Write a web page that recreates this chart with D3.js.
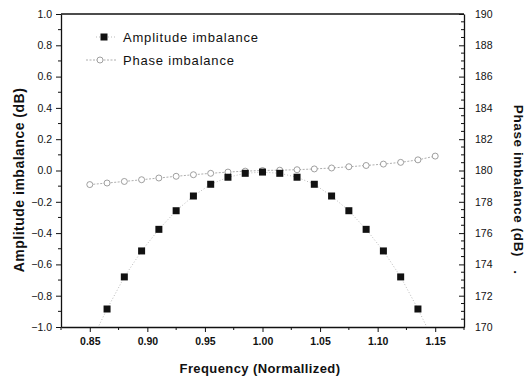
<!DOCTYPE html>
<html>
<head>
<meta charset="utf-8">
<script src="https://cdn.jsdelivr.net/npm/d3@7"></script>
<style>
  body { margin: 0; background: #fff; }
  svg { display: block; font-family: "Liberation Sans", Arial, sans-serif; }
</style>
</head>
<body>
<svg id="chart" width="525" height="381"></svg>
<script>
// Frequency points (normalized)
const ampFreq = [0.85, 0.865, 0.88, 0.895, 0.91, 0.925, 0.94, 0.955, 0.97, 0.985, 1.0,
                 1.015, 1.03, 1.045, 1.06, 1.075, 1.09, 1.105, 1.12, 1.135, 1.15];
// Amplitude imbalance (dB); end points fall below the axis and get clipped
const ampValues = [-1.11, -0.885, -0.68, -0.514, -0.376, -0.257, -0.163, -0.088, -0.043, -0.018, -0.01,
                   -0.018, -0.043, -0.088, -0.163, -0.257, -0.376, -0.514, -0.68, -0.885, -1.11];
const phaseFreq = [0.85, 0.865, 0.88, 0.895, 0.91, 0.925, 0.94, 0.955, 0.97, 0.985, 1.0,
                   1.015, 1.03, 1.045, 1.06, 1.075, 1.09, 1.105, 1.12, 1.135, 1.15];
// Phase imbalance (deg, right axis)
const phaseValues = [179.10, 179.20, 179.30, 179.41, 179.52, 179.63, 179.73, 179.82, 179.90, 179.96, 180.00,
                     180.02, 180.05, 180.10, 180.16, 180.24, 180.32, 180.41, 180.52, 180.68, 180.92];

const xTicks = [0.85, 0.90, 0.95, 1.00, 1.05, 1.10, 1.15];
const yLeftTicks = [-1.0, -0.8, -0.6, -0.4, -0.2, 0.0, 0.2, 0.4, 0.6, 0.8, 1.0];
const yRightTicks = [170, 172, 174, 176, 178, 180, 182, 184, 186, 188, 190];

const svg = d3.select('#chart');
const plot = { left: 61, right: 464, top: 14, bottom: 327 };

const x = d3.scaleLinear().domain([0.825, 1.175]).range([plot.left, plot.right]);
const yL = d3.scaleLinear().domain([-1, 1]).range([plot.bottom, plot.top]);
const yR = d3.scaleLinear().domain([170, 190]).range([plot.bottom, plot.top]);

svg.append('defs').append('clipPath').attr('id', 'plotClip')
  .append('rect')
  .attr('x', plot.left).attr('y', plot.top)
  .attr('width', plot.right - plot.left).attr('height', plot.bottom - plot.top);

// minor ticks
const xMinor = d3.range(0.825, 1.18, 0.025).filter(v => !xTicks.some(t => Math.abs(t - v) < 1e-6));
const yLMinor = d3.range(-0.9, 1.0, 0.2);
const yRMinor = d3.range(170.5, 190, 0.5).filter(v => Math.abs(v % 2) > 1e-6);

const axisColor = '#111';

// bottom axis
const gx = svg.append('g')
  .attr('transform', `translate(0,${plot.bottom})`)
  .call(d3.axisBottom(x).tickValues(xTicks).tickFormat(d3.format('.2f')).tickSize(5).tickPadding(6).tickSizeOuter(0));
gx.selectAll('text').attr('font-size', '10.5px').attr('font-weight', '600').attr('fill', '#111');
gx.append('g').selectAll('line').data(xMinor).join('line')
  .attr('x1', d => x(d)).attr('x2', d => x(d)).attr('y1', 0).attr('y2', 3)
  .attr('stroke', axisColor);

// left axis
const gl = svg.append('g')
  .attr('transform', `translate(${plot.left},0)`)
  .call(d3.axisLeft(yL).tickValues(yLeftTicks).tickFormat(d3.format('.1f')).tickSize(5).tickPadding(4).tickSizeOuter(0));
gl.selectAll('text').attr('font-size', '10.5px').attr('fill', '#111');
gl.append('g').selectAll('line').data(yLMinor).join('line')
  .attr('y1', d => yL(d)).attr('y2', d => yL(d)).attr('x1', 0).attr('x2', -3)
  .attr('stroke', axisColor);

// right axis (ticks pointing inward)
const gr = svg.append('g')
  .attr('transform', `translate(${plot.right},0)`)
  .call(d3.axisRight(yR).tickValues(yRightTicks).tickFormat(d3.format('d')).tickSize(-5).tickPadding(11).tickSizeOuter(0));
gr.selectAll('text').attr('font-size', '10.5px').attr('fill', '#111');
gr.append('g').selectAll('line').data(yRMinor).join('line')
  .attr('y1', d => yR(d)).attr('y2', d => yR(d)).attr('x1', 0).attr('x2', -3)
  .attr('stroke', axisColor);

[gx, gl, gr].forEach(g => {
  g.selectAll('.domain').attr('stroke', axisColor).attr('stroke-width', 1.3);
  g.selectAll('.tick line').attr('stroke', axisColor);
});

// top frame line
svg.append('line')
  .attr('x1', plot.left).attr('x2', plot.right)
  .attr('y1', plot.top).attr('y2', plot.top)
  .attr('stroke', axisColor).attr('stroke-width', 1.3);

const plotArea = svg.append('g').attr('clip-path', 'url(#plotClip)');

// phase imbalance
const phaseData = phaseFreq.map((f, i) => ({ f, v: phaseValues[i] }));
plotArea.append('path')
  .datum(phaseData)
  .attr('fill', 'none')
  .attr('stroke', '#999')
  .attr('stroke-width', 0.8)
  .attr('stroke-dasharray', '2,1.5')
  .attr('d', d3.line().x(d => x(d.f)).y(d => yR(d.v)));
plotArea.selectAll('.phase').data(phaseData).join('circle')
  .attr('class', 'phase')
  .attr('cx', d => x(d.f)).attr('cy', d => yR(d.v)).attr('r', 3)
  .attr('fill', '#fff').attr('stroke', '#888').attr('stroke-width', 0.8);

// amplitude imbalance
const ampData = ampFreq.map((f, i) => ({ f, v: ampValues[i] }));
plotArea.append('path')
  .datum(ampData)
  .attr('fill', 'none')
  .attr('stroke', '#aaa')
  .attr('stroke-width', 0.8)
  .attr('stroke-dasharray', '1,2')
  .attr('d', d3.line().x(d => x(d.f)).y(d => yL(d.v)));
plotArea.selectAll('.amp').data(ampData).join('rect')
  .attr('class', 'amp')
  .attr('x', d => x(d.f) - 3.5).attr('y', d => yL(d.v) - 3.5)
  .attr('width', 7).attr('height', 7)
  .attr('fill', '#111');

// legend
const legend = svg.append('g');
legend.append('line').attr('x1', 96).attr('x2', 116).attr('y1', 37).attr('y2', 37)
  .attr('stroke', '#aaa').attr('stroke-width', 0.8).attr('stroke-dasharray', '1,2');
legend.append('rect').attr('x', 100.5).attr('y', 33.5).attr('width', 7).attr('height', 7).attr('fill', '#111');
legend.append('text').attr('x', 123).attr('y', 42).attr('font-size', '13px')
  .attr('letter-spacing', '0.8px').attr('fill', '#111')
  .text('Amplitude imbalance');
legend.append('line').attr('x1', 86).attr('x2', 116).attr('y1', 60).attr('y2', 60)
  .attr('stroke', '#999').attr('stroke-width', 0.8).attr('stroke-dasharray', '2,1.5');
legend.append('circle').attr('cx', 100).attr('cy', 60).attr('r', 3)
  .attr('fill', '#fff').attr('stroke', '#888').attr('stroke-width', 0.8);
legend.append('text').attr('x', 123).attr('y', 65).attr('font-size', '13px')
  .attr('letter-spacing', '0.8px').attr('fill', '#111')
  .text('Phase imbalance');

// axis titles
svg.append('text')
  .attr('transform', 'translate(24,180) rotate(-90)')
  .attr('text-anchor', 'middle')
  .attr('font-size', '14px').attr('font-weight', 'bold').attr('letter-spacing', '0.5px').attr('fill', '#111')
  .text('Amplitude imbalance (dB)');
svg.append('text')
  .attr('x', 260).attr('y', 373)
  .attr('text-anchor', 'middle')
  .attr('font-size', '13px').attr('font-weight', 'bold').attr('letter-spacing', '0.4px').attr('fill', '#111')
  .text('Frequency (Normallized)');
svg.append('text')
  .attr('transform', 'translate(514,181) rotate(90)')
  .attr('text-anchor', 'middle')
  .attr('font-size', '13.5px').attr('font-weight', '600').attr('letter-spacing', '0.6px').attr('fill', '#111')
  .text('Phase imbalance (dB)');
svg.append('text')
  .attr('transform', 'translate(514,272) rotate(90)')
  .attr('text-anchor', 'middle')
  .attr('font-size', '13.5px').attr('font-weight', 'bold').attr('fill', '#111')
  .text('.');
</script>
</body>
</html>
